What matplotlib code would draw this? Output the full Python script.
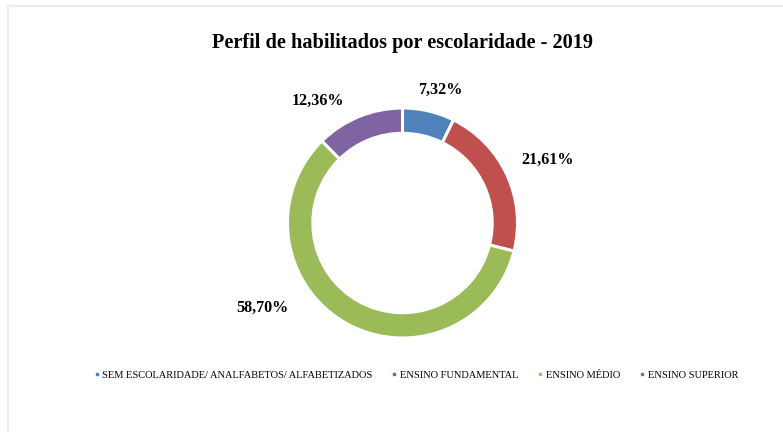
import matplotlib.pyplot as plt
from matplotlib.lines import Line2D

categorias = [
    "SEM ESCOLARIDADE/ ANALFABETOS/ ALFABETIZADOS",
    "ENSINO FUNDAMENTAL",
    "ENSINO MÉDIO",
    "ENSINO SUPERIOR",
]
valores = [7.32, 21.61, 58.70, 12.36]
rotulos = ["7,32%", "21,61%", "58,70%", "12,36%"]
cores = ["#4f81bd", "#c0504d", "#9bbb59", "#8064a2"]

# label positions (data coords, donut radius = 1), like Excel "best fit"
pos_rotulos = [(0.326, 1.157), (1.265, 0.548), (-1.222, -0.739), (-0.735, 1.061)]

plt.rcParams["font.family"] = ["Liberation Serif", "DejaVu Serif"]

W, H = 783, 432
fig = plt.figure(figsize=(W / 100, H / 100), dpi=100)

# chart area border (light beige)
borda = "#f0ede3"
fig.add_artist(Line2D([8 / W, 8 / W], [0, 1 - 6 / H], color=borda, lw=1.6))
fig.add_artist(Line2D([8 / W, 1], [1 - 6 / H, 1 - 6 / H], color=borda, lw=1.6))

cx, cy, R = 402.5, 223, 115
ax = fig.add_axes([(cx - R) / W, (H - cy - R) / H, 2 * R / W, 2 * R / H])
ax.pie(
    valores,
    colors=cores,
    startangle=90,
    counterclock=False,
    radius=1,
    wedgeprops=dict(width=0.22, edgecolor="white", linewidth=2.2),
)
ax.set_xlim(-1, 1)
ax.set_ylim(-1, 1)
ax.set_aspect("equal")
ax.axis("off")

for txt, (x, y) in zip(rotulos, pos_rotulos):
    ax.text(x, y, txt, ha="center", va="center", fontsize=11.6,
            fontweight="bold", color="black")

fig.text(cx / W, 1 - 43 / H, "Perfil de habilitados por escolaridade - 2019",
         ha="center", va="center", fontsize=14.6, fontweight="bold")

handles = [Line2D([], [], marker="s", ls="", color=c, markersize=1.8) for c in cores]
fig.legend(handles, categorias, loc="center", bbox_to_anchor=(416 / W, 1 - 375 / H),
           ncol=4, frameon=False, fontsize=7.5, handlelength=0.5,
           handletextpad=0.25, columnspacing=1.9)

fig.savefig("out.png", dpi=100)
